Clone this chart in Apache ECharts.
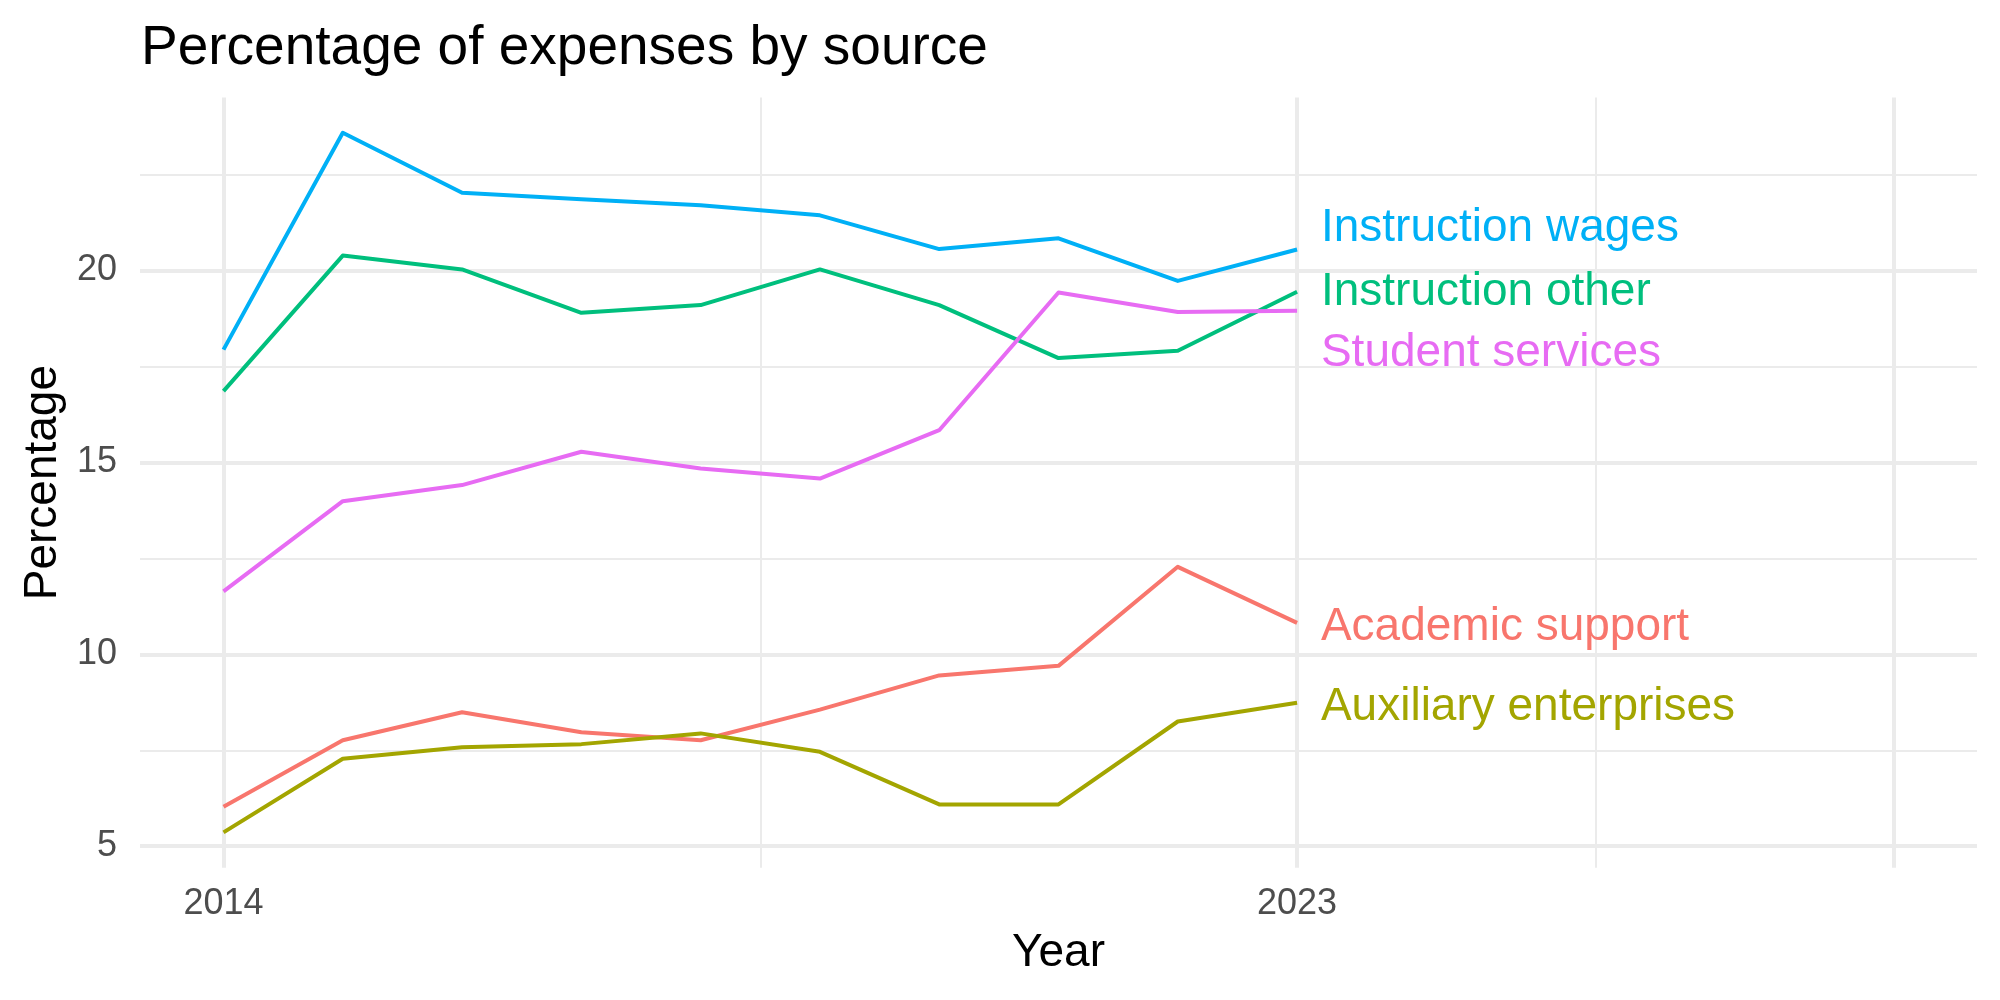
<!DOCTYPE html>
<html lang="en">
  <head>
    <meta charset="UTF-8" />
    <title>Percentage of expenses by source</title>
    <style>
      html, body { margin: 0; padding: 0; background: #fff; }
      #container { width: 2000px; height: 1000px; }
    </style>
    <script src="https://cdn.jsdelivr.net/npm/echarts@6.0.0/dist/echarts.min.js"></script>
  </head>
  <body>
    <div id="container"></div>
    <script>
      const years = [2014, 2015, 2016, 2017, 2018, 2019, 2020, 2021, 2022, 2023]
      const academicSupport = [6.03, 7.76, 8.49, 7.97, 7.76, 8.56, 9.45, 9.7, 12.28, 10.82]
      const auxiliaryEnterprises = [5.36, 7.28, 7.58, 7.66, 7.94, 7.46, 6.09, 6.09, 8.25, 8.74]
      const instructionOther = [16.86, 20.39, 20.03, 18.9, 19.1, 20.03, 19.1, 17.72, 17.91, 19.45]
      const instructionWages = [17.94, 23.59, 22.03, 21.86, 21.7, 21.44, 20.56, 20.84, 19.73, 20.55]
      const studentServices = [11.64, 13.99, 14.41, 15.28, 14.84, 14.58, 15.84, 19.43, 18.92, 18.95]

      const seriesNames = ['Academic support', 'Auxiliary enterprises', 'Instruction other', 'Instruction wages', 'Student services']
      const seriesValues = [academicSupport, auxiliaryEnterprises, instructionOther, instructionWages, studentServices]
      const colors = ['#F8766D', '#A3A500', '#00BF7D', '#00B0F6', '#E76BF3']

      // where the direct labels sit (data units)
      const labelX = 2023.2
      const labelY = [10.79, 8.69, 19.52, 21.18, 17.92]

      const xTicks = [2014, 2023]
      const yTicks = [5, 10, 15, 20]
      const xMajor = [2014, 2023, 2028]
      const xMinor = [2018.5, 2025.5]
      const yMajor = [5, 10, 15, 20]
      const yMinor = [7.5, 12.5, 17.5, 22.5]

      const font = 'Liberation Sans'
      const chart = echarts.init(document.getElementById('container'))

      const gridLine = (w) => ({ color: '#EBEBEB', width: w, type: 'solid' })
      const gridSeries = {
        type: 'line',
        data: [],
        silent: true,
        z: 0,
        markLine: {
          z: 1,
          silent: true,
          symbol: 'none',
          animation: false,
          label: { show: false },
          data: [
            ...yMinor.map((v) => ({ yAxis: v, lineStyle: gridLine(2) })),
            ...xMinor.map((v) => ({ xAxis: v, lineStyle: gridLine(2) })),
            ...yMajor.map((v) => ({ yAxis: v, lineStyle: gridLine(4) })),
            ...xMajor.map((v) => ({ xAxis: v, lineStyle: gridLine(4) })),
          ],
        },
      }

      const lineSeries = seriesNames.map((name, k) => ({
        name: name,
        type: 'line',
        z: 6,
        showSymbol: false,
        data: years.map((y, i) => [y, seriesValues[k][i]]),
        lineStyle: { color: colors[k], width: 4, join: 'round' },
        itemStyle: { color: colors[k] },
      }))

      const labelSeries = seriesNames.map((name, k) => ({
        name: name + ' label',
        type: 'scatter',
        z: 7,
        symbolSize: 0,
        itemStyle: { opacity: 1 },
        data: [[labelX, labelY[k]]],
        label: {
          show: true,
          position: 'right',
          distance: 0,
          offset: [0, 3],
          opacity: 1,
          formatter: name,
          color: colors[k],
          fontSize: 46,
          fontFamily: font,
        },
      }))

      chart.setOption({
        animation: false,
        backgroundColor: '#fff',
        title: {
          text: 'Percentage of expenses by source',
          left: 136,
          top: 16,
          textStyle: { fontFamily: font, fontSize: 55, fontWeight: 'normal', color: '#000' },
        },
        grid: { left: 140, right: 23, top: 97.5, bottom: 132.3 },
        xAxis: {
          type: 'value',
          min: 2013.3,
          max: 2028.7,
          name: 'Year',
          nameLocation: 'middle',
          nameGap: 63,
          nameTextStyle: { fontFamily: font, fontSize: 46, color: '#000' },
          axisLine: { show: false },
          axisTick: { show: false },
          splitLine: { show: false },
          axisLabel: {
            customValues: xTicks,
            formatter: (v) => String(v),
            margin: 18,
            fontFamily: font,
            fontSize: 36,
            color: '#4D4D4D',
          },
        },
        yAxis: {
          type: 'value',
          min: 4.44,
          max: 24.51,
          name: 'Percentage',
          nameLocation: 'middle',
          nameGap: 73,
          nameTextStyle: { fontFamily: font, fontSize: 46, color: '#000' },
          axisLine: { show: false },
          axisTick: { show: false },
          splitLine: { show: false },
          axisLabel: {
            customValues: yTicks,
            formatter: (v) => String(v),
            margin: 23,
            fontFamily: font,
            fontSize: 36,
            color: '#4D4D4D',
          },
        },
        series: [gridSeries, ...lineSeries, ...labelSeries],
      })
    </script>
  </body>
</html>
